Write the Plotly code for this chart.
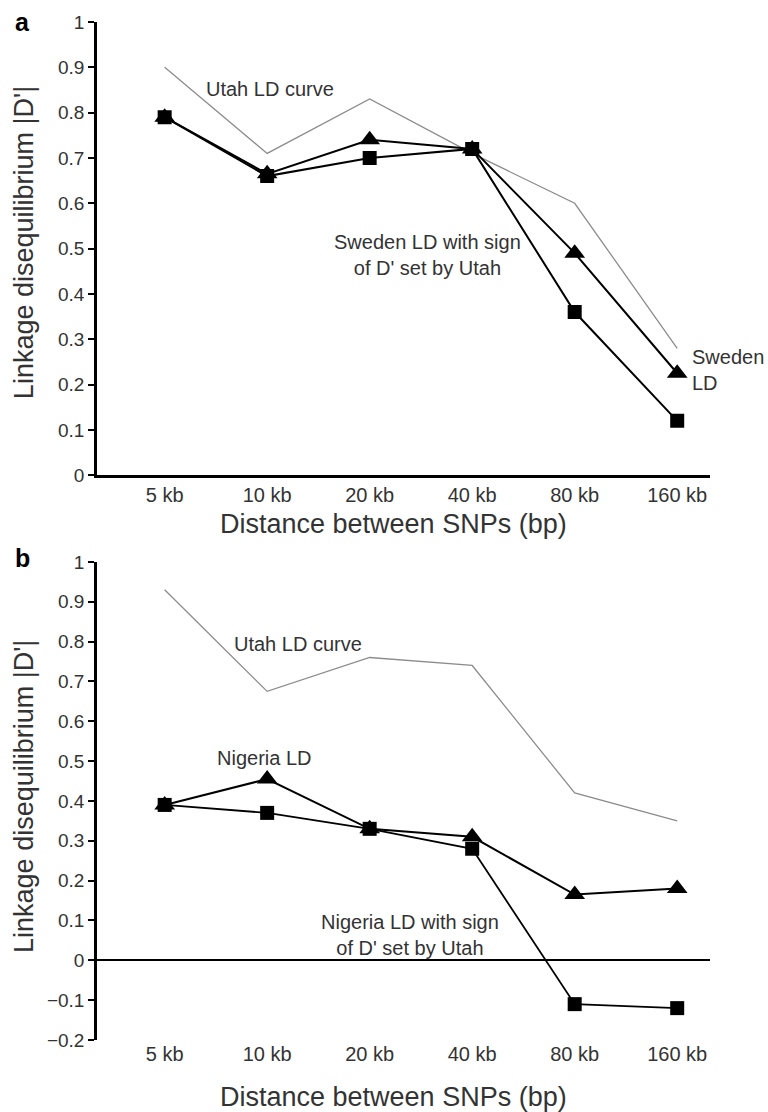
import plotly.graph_objects as go

categories = ["5 kb", "10 kb", "20 kb", "40 kb", "80 kb", "160 kb"]
xpos = [0, 1, 2, 3, 4, 5]

# Panel a (Sweden)
utah_a = [0.90, 0.71, 0.83, 0.71, 0.60, 0.28]
sweden_ld = [0.79, 0.665, 0.74, 0.72, 0.49, 0.225]
sweden_signed = [0.79, 0.66, 0.70, 0.72, 0.36, 0.12]

# Panel b (Nigeria)
utah_b = [0.93, 0.675, 0.76, 0.74, 0.42, 0.35]
nigeria_ld = [0.39, 0.455, 0.33, 0.31, 0.165, 0.18]
nigeria_signed = [0.39, 0.37, 0.33, 0.28, -0.11, -0.12]

yticks_a = [0, 0.1, 0.2, 0.3, 0.4, 0.5, 0.6, 0.7, 0.8, 0.9, 1]
ytext_a = ["0", "0.1", "0.2", "0.3", "0.4", "0.5", "0.6", "0.7", "0.8", "0.9", "1"]
yticks_b = [-0.2, -0.1] + yticks_a
ytext_b = ["\u22120.2", "\u22120.1"] + ytext_a

FONT = "Liberation Sans, Arial, Helvetica, sans-serif"
TXT = "#333333"

W, H = 768, 1112
L, R, T, B = 97, 768 - 710, 18, 1112 - 1040
PW, PH = W - L - R, H - T - B


def px2paper(px, py):
    return (px - L) / PW, (H - B - py) / PH


fig = go.Figure()

# Panel a
fig.add_trace(go.Scatter(x=xpos, y=utah_a, mode="lines", line=dict(color="#8c8c8c", width=1.3),
                         xaxis="x", yaxis="y", showlegend=False))
fig.add_trace(go.Scatter(x=xpos, y=sweden_ld, mode="lines+markers",
                         line=dict(color="black", width=2),
                         marker=dict(symbol="triangle-up", size=18, color="black"),
                         xaxis="x", yaxis="y", showlegend=False))
fig.add_trace(go.Scatter(x=xpos, y=sweden_signed, mode="lines+markers",
                         line=dict(color="black", width=2),
                         marker=dict(symbol="square", size=14, color="black"),
                         xaxis="x", yaxis="y", showlegend=False))

# Panel b
fig.add_trace(go.Scatter(x=xpos, y=utah_b, mode="lines", line=dict(color="#8c8c8c", width=1.3),
                         xaxis="x2", yaxis="y2", showlegend=False))
fig.add_trace(go.Scatter(x=xpos, y=nigeria_ld, mode="lines+markers",
                         line=dict(color="black", width=2),
                         marker=dict(symbol="triangle-up", size=18, color="black"),
                         xaxis="x2", yaxis="y2", showlegend=False))
fig.add_trace(go.Scatter(x=xpos, y=nigeria_signed, mode="lines+markers",
                         line=dict(color="black", width=1.8),
                         marker=dict(symbol="square", size=14, color="black"),
                         xaxis="x2", yaxis="y2", showlegend=False))

# domains
a_bot = (H - B - 473) / PH
b_top = (H - B - 560) / PH

xr = [-0.66, 5.32]
xaxis_common = dict(range=xr, tickvals=xpos, ticktext=categories, showgrid=False,
                    ticks="", tickfont=dict(family=FONT, size=20, color=TXT), zeroline=False)
yaxis_common = dict(showgrid=False, showline=True, linecolor="black", linewidth=2.5,
                    ticks="outside", ticklen=6, tickwidth=2, tickcolor="black",
                    tickfont=dict(family=FONT, size=19, color=TXT))

fig.update_layout(
    width=W, height=H,
    margin=dict(l=L, r=R, t=T, b=B),
    paper_bgcolor="white", plot_bgcolor="white",
    xaxis=dict(**xaxis_common, domain=[0, 1], anchor="y", showline=True,
               linecolor="black", linewidth=3),
    yaxis=dict(**yaxis_common, domain=[a_bot, 1], anchor="x", range=[0, 1],
               tickvals=yticks_a, ticktext=ytext_a),
    xaxis2=dict(**xaxis_common, domain=[0, 1], anchor="y2", showline=False),
    yaxis2=dict(**yaxis_common, domain=[0, b_top], anchor="x2", range=[-0.2, 1],
                tickvals=yticks_b, ticktext=ytext_b, zeroline=True,
                zerolinecolor="black", zerolinewidth=2),
    font=dict(family=FONT, color=TXT),
)

ann = []


def add_paper(text, px, py, size, angle=0, bold=False, xanchor="center", color=TXT):
    x, y = px2paper(px, py)
    ann.append(dict(text=("<b>%s</b>" % text) if bold else text, x=x, y=y, xref="paper", yref="paper",
                    xanchor=xanchor, yanchor="middle", showarrow=False, textangle=angle,
                    font=dict(family=FONT, size=size, color=color)))


add_paper("a", 22, 18, 25, bold=True, color="black")
add_paper("b", 22, 556, 25, bold=True, color="black")
add_paper("Linkage disequilibrium |D'|", 24, 240, 27, angle=-90)
add_paper("Linkage disequilibrium |D'|", 24, 796, 27, angle=-90)
add_paper("Distance between SNPs (bp)", 393, 522, 27)
add_paper("Distance between SNPs (bp)", 393, 1097, 27)


def add_data(text, x, y, xa, ya, xanchor="center"):
    ann.append(dict(text=text, x=x, y=y, xref=xa, yref=ya, xanchor=xanchor, yanchor="middle",
                    showarrow=False, align="left" if xanchor == "left" else "center",
                    font=dict(family=FONT, size=20, color=TXT)))


add_data("Utah LD curve", 1.03, 0.853, "x", "y")
add_data("Sweden LD with sign<br>of D' set by Utah", 2.56, 0.486, "x", "y")
add_data("Sweden<br>LD", 5.125, 0.232, "x", "y", xanchor="left")
add_data("Utah LD curve", 1.30, 0.795, "x2", "y2")
add_data("Nigeria LD", 0.97, 0.5075, "x2", "y2")
add_data("Nigeria LD with sign<br>of D' set by Utah", 2.39, 0.064, "x2", "y2")

fig.update_layout(annotations=ann)

fig.write_html("out.html")
